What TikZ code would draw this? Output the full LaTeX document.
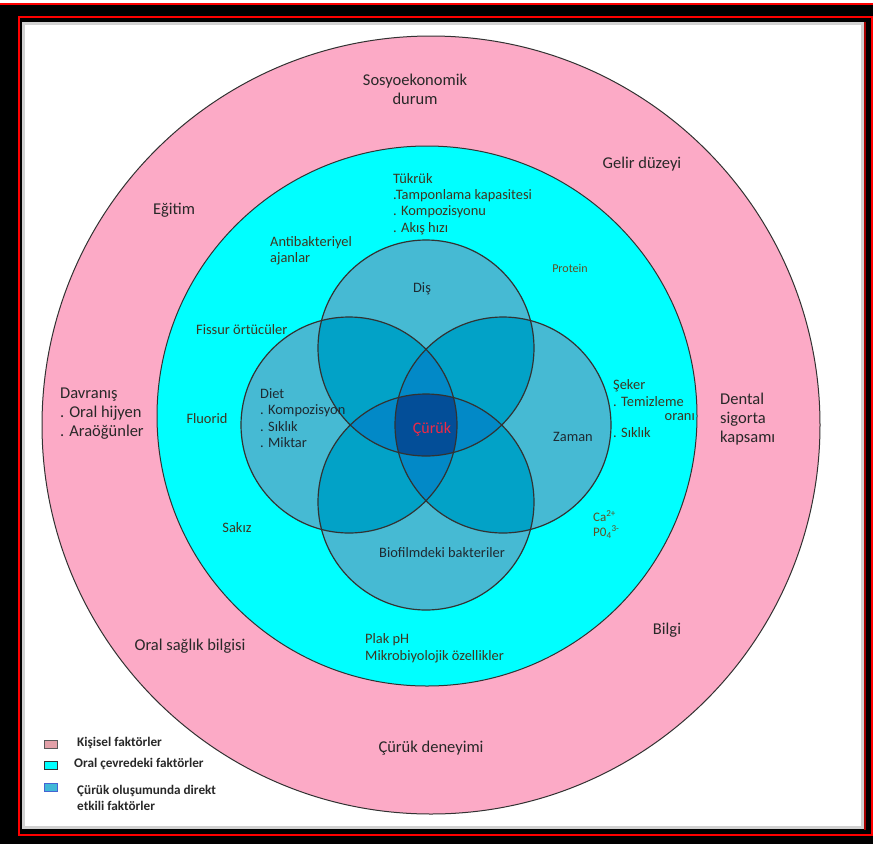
\documentclass[tikz,border=0pt]{standalone}
\usepackage{fontspec}
\setmainfont{Carlito}
\definecolor{pinkring}{RGB}{252,170,198}
\definecolor{cyanring}{RGB}{0,255,255}
\definecolor{vone}{RGB}{70,186,211}
\definecolor{vtwo}{RGB}{2,162,199}
\definecolor{vthree}{RGB}{2,137,199}
\definecolor{vfour}{RGB}{3,78,152}
\definecolor{outline}{RGB}{50,50,50}
\definecolor{pinktext}{RGB}{40,40,40}
\definecolor{cyantext}{RGB}{62,54,32}
\definecolor{smalltext}{RGB}{96,80,34}
\definecolor{venntext}{RGB}{30,42,50}
\definecolor{cariesred}{RGB}{240,40,70}
\definecolor{legpink}{RGB}{226,160,168}
\definecolor{legblue}{RGB}{64,184,216}
\definecolor{legblueborder}{RGB}{70,100,210}
\tikzset{
  pinklabel/.style={text=pinktext, font=\fontsize{16.5}{19}\selectfont, inner sep=0pt},
  cyanlabel/.style={text=cyantext, font=\fontsize{14.4}{16.2}\selectfont, inner sep=0pt},
  smalllabel/.style={text=smalltext, font=\fontsize{13}{15}\selectfont, inner sep=0pt},
  vennlabel/.style={text=venntext, font=\fontsize{14.4}{16.5}\selectfont, inner sep=0pt},
  leglabel/.style={text=pinktext, font=\bfseries\fontsize{13.2}{16}\selectfont, inner sep=0pt, anchor=west, align=left},
  legbox/.style={minimum width=13pt, minimum height=8pt, inner sep=0pt, line width=0.9pt},
  ring/.style={draw=outline, line width=1pt},
  vennline/.style={draw=outline, line width=1.2pt}
}
\begin{document}
\begin{tikzpicture}[x=1pt,y=-1pt]
\useasboundingbox (0,0) rectangle (873,844);
% frame
\fill[white] (0,0) rectangle (873,844);
\fill[black] (0,3) rectangle (873,844);
\draw[red, line width=1.6pt] (0,4) -- (873,4);
\draw[red, line width=2pt] (19,17) rectangle (872,835);
\fill[white] (22,22) rectangle (864,829);
\draw[black!18, line width=3pt] (23.5,23.5) rectangle (862.5,827.5);
\draw[red!65!black, line width=2pt] (865,22) -- (865,830);
% rings
\coordinate (oc) at (431,425);
\coordinate (cc) at (427,416);
\fill[pinkring, ring] (oc) circle[radius=389pt];
\fill[cyanring, ring] (cc) circle[radius=270pt];
% venn
\def\vr{108pt}
\coordinate (vt) at (426,348);
\coordinate (vb) at (426,502);
\coordinate (vl) at (349,425);
\coordinate (vrr) at (503,425);
\foreach \c in {vt,vb,vl,vrr} { \fill[vone] (\c) circle[radius=\vr]; }
\foreach \a/\b in {vt/vl,vt/vrr,vb/vl,vb/vrr,vl/vrr,vt/vb} {
  \begin{scope}
    \clip (\a) circle[radius=\vr];
    \fill[vtwo] (\b) circle[radius=\vr];
  \end{scope}
}
\foreach \a/\b/\d in {vt/vl/vrr,vb/vl/vrr,vl/vt/vb,vrr/vt/vb} {
  \begin{scope}
    \clip (\a) circle[radius=\vr];
    \clip (\b) circle[radius=\vr];
    \fill[vthree] (\d) circle[radius=\vr];
  \end{scope}
}
\begin{scope}
  \clip (vt) circle[radius=\vr];
  \clip (vb) circle[radius=\vr];
  \clip (vl) circle[radius=\vr];
  \fill[vfour] (vrr) circle[radius=\vr];
\end{scope}
\foreach \c in {vt,vb,vl,vrr} { \draw[vennline] (\c) circle[radius=\vr]; }
% pink ring labels
\node[pinklabel, align=center] (sosyo) at (415,89) {Sosyoekonomik\\durum};
\node[pinklabel] (gelir) at (642,164) {Gelir düzeyi};
\node[pinklabel] (egitim) at (174,210) {Eğitim};
\node[pinklabel, align=left, anchor=west] (davranis) at (60,414) {Davranış\\. Oral hijyen\\. Araöğünler};
\node[pinklabel, align=left, anchor=west] (dental) at (720,419) {Dental\\sigorta\\kapsamı};
\node[pinklabel] (oralsaglik) at (190,646) {Oral sağlık bilgisi};
\node[pinklabel] (bilgi) at (667,630) {Bilgi};
\node[pinklabel] (deneyim) at (431,748) {Çürük deneyimi};
% cyan ring labels
\node[cyanlabel, align=left, anchor=west] (tukruk) at (393,204) {Tükrük\\.Tamponlama kapasitesi\\. Kompozisyonu\\. Akış hızı};
\node[cyanlabel, align=left, anchor=west] (antibak) at (270,251) {Antibakteriyel\\ajanlar};
\node[smalllabel, font=\fontsize{12}{14}\selectfont] (protein) at (570,268) {Protein};
\node[cyanlabel, anchor=west] (fissur) at (196,330) {Fissur örtücüler};
\node[cyanlabel] (fluorid) at (207,419) {Fluorid};
\node[cyanlabel] (sakiz) at (237,528) {Sakız};
\node[cyanlabel, align=left, anchor=west] (seker) at (613,393) {Şeker\\. Temizleme};
\node[cyanlabel, anchor=east] (orani) at (695,417) {oranı};
\node[cyanlabel, anchor=west] (siklik2) at (613,433) {. Sıklık};
\node[smalllabel, anchor=west] (ca) at (593,516) {Ca\textsuperscript{2+}};
\node[smalllabel, anchor=west] (po) at (593,532) {P0\textsubscript{4}\textsuperscript{3-}};
\node[cyanlabel, align=left, anchor=west, font=\fontsize{14.4}{17}\selectfont] (plak) at (365,648) {Plak pH\\Mikrobiyolojik özellikler};
% venn labels
\node[vennlabel] (dis) at (422,289) {Diş};
\node[vennlabel, align=left, anchor=west] (diet) at (260,418) {Diet\\. Kompozisyon\\. Sıklık\\. Miktar};
\node[vennlabel, text=cariesred, font=\fontsize{16}{18}\selectfont] (curuk) at (432,429) {Çürük};
\node[vennlabel] (zaman) at (573,437) {Zaman};
\node[vennlabel] (biofilm) at (442,553) {Biofilmdeki bakteriler};
% legend
\node[legbox, fill=legpink, draw=black!65] (leg1) at (51,744) {};
\node[legbox, fill=cyanring, draw=black!80] (leg2) at (51,765) {};
\node[legbox, fill=legblue, draw=legblueborder] (leg3) at (51,787) {};
\node[leglabel] (leg1t) at (77,743) {Kişisel faktörler};
\node[leglabel] (leg2t) at (74,764) {Oral çevredeki faktörler};
\node[leglabel] (leg3t) at (77,798) {Çürük oluşumunda direkt\\etkili faktörler};
\end{tikzpicture}
\end{document}
